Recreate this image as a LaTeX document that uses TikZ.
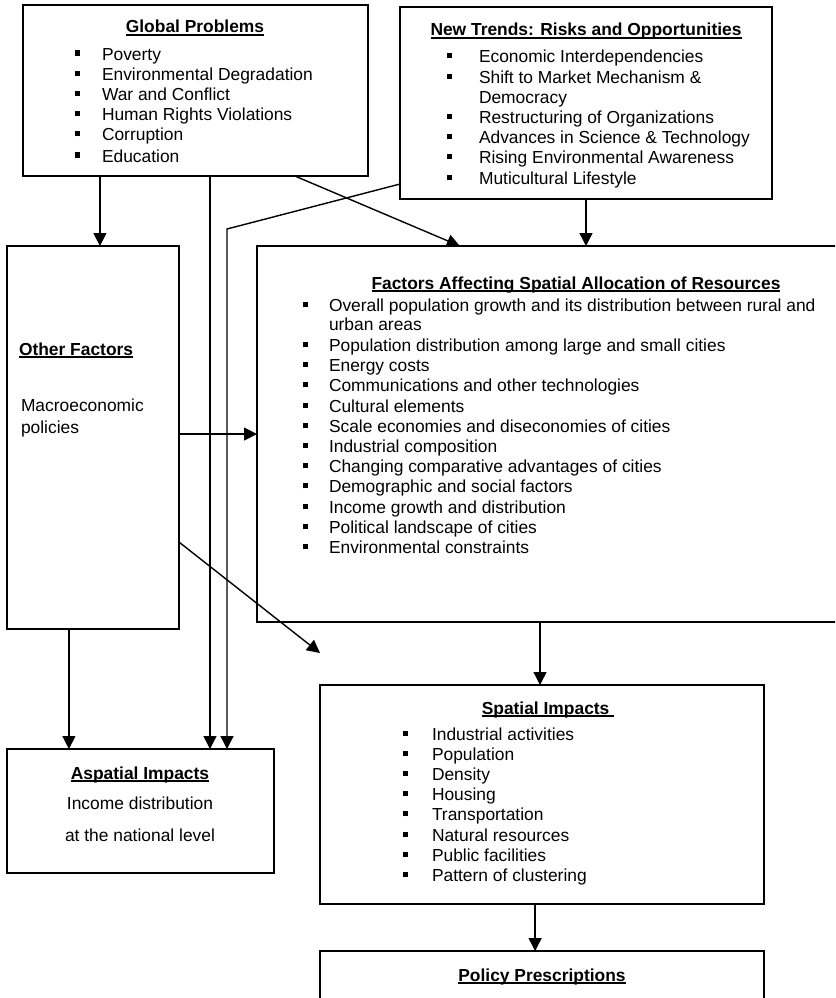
\documentclass[tikz,border=0pt]{standalone}
\usepackage{fontspec}
\setmainfont{Liberation Sans}
\usetikzlibrary{arrows.meta,calc}
\newcommand\bsq{\rule[4.5pt]{5pt}{5pt}}
\newcommand\bitem[2]{\makebox[#1][l]{\bsq}#2}
\newsavebox\ulbox
\newcommand\myul[1]{\sbox\ulbox{#1}\rlap{\rule[-2.6pt]{\wd\ulbox}{1.2pt}}\usebox\ulbox}
\newcommand\ttl[1]{\myul{\bfseries #1}}
\begin{document}
\begin{tikzpicture}[x=1pt,y=-1pt,
  font=\fontsize{17.4}{20.2}\selectfont,
  every node/.style={inner sep=0pt, outer sep=0pt},
  box/.style={draw, line width=1.3pt, anchor=north west},
  txt/.style={anchor=base west},
  arr/.style={line width=1.4pt, -{Triangle[length=13pt,width=13pt]}},
  ln/.style={line width=1.3pt}]
\useasboundingbox (0,0) rectangle (835,998);
\clip (0,0) rectangle (835,998);
\fill[white] (0,0) rectangle (835,998);

% boxes
\node[box, minimum width=345pt, minimum height=171pt] (gp) at (23,5) {};
\node[box, minimum width=372pt, minimum height=192pt] (nt) at (400,7) {};
\node[box, minimum width=172pt, minimum height=383pt] (of) at (7,246) {};
\node[box, minimum width=600pt, minimum height=376pt] (fa) at (257,246) {};
\node[box, minimum width=267pt, minimum height=124pt] (as) at (7,749) {};
\node[box, minimum width=444pt, minimum height=219pt] (sp) at (320,685) {};
\node[box, minimum width=444pt, minimum height=80pt] (pp) at (320,951) {};

% texts
\node[anchor=base] (gpt) at (195,33) {\ttl{Global Problems}};
\node[txt] (gpl) at (75,60) {\begin{tabular}[t]{@{}l@{}}
\bitem{27pt}{Poverty}\\
\bitem{27pt}{Environmental Degradation}\\
\bitem{27pt}{War and Conflict}\\
\bitem{27pt}{Human Rights Violations}\\
\bitem{27pt}{Corruption}\\[1pt]
\bitem{27pt}{Education}
\end{tabular}};

\node[anchor=base] (ntt) at (586,36) {\ttl{New Trends: Risks and Opportunities}};
\node[txt] (ntl) at (447,63) {\begin{tabular}[t]{@{}l@{}}
\bitem{32pt}{Economic Interdependencies}\\
\bitem{32pt}{Shift to Market Mechanism \&}\\
\hspace*{32pt}Democracy\\
\bitem{32pt}{Restructuring of Organizations}\\
\bitem{32pt}{Advances in Science \& Technology}\\
\bitem{32pt}{Rising Environmental Awareness}\\
\bitem{32pt}{Muticultural Lifestyle}
\end{tabular}};

\node[anchor=base] (fat) at (576,289) {\ttl{Factors Affecting Spatial Allocation of Resources}};
\node[txt] (fal) at (303,311) {\begin{tabular}[t]{@{}l@{}}
\bitem{26pt}{Overall population growth and its distribution between rural and}\\[-1pt]
\hspace*{26pt}urban areas\\[1pt]
\bitem{26pt}{Population distribution among large and small cities}\\
\bitem{26pt}{Energy costs}\\
\bitem{26pt}{Communications and other technologies}\\
\bitem{26pt}{Cultural elements}\\
\bitem{26pt}{Scale economies and diseconomies of cities}\\
\bitem{26pt}{Industrial composition}\\
\bitem{26pt}{Changing comparative advantages of cities}\\
\bitem{26pt}{Demographic and social factors}\\
\bitem{26pt}{Income growth and distribution}\\
\bitem{26pt}{Political landscape of cities}\\
\bitem{26pt}{Environmental constraints}
\end{tabular}};

\node[txt] (oft) at (19,355) {\ttl{Other Factors}};
\node[txt] (ofl) at (21,411) {\begin{tabular}[t]{@{}l@{}}
Macroeconomic\\[2pt]
policies
\end{tabular}};

\node[anchor=base] (ast) at (140,779) {\ttl{Aspatial Impacts}};
\node[anchor=base] (asl) at (140,809) {\begin{tabular}[t]{@{}c@{}}
Income distribution\\[11.8pt]
at the national level
\end{tabular}};

\node[anchor=base] (spt) at (548,714) {\ttl{Spatial Impacts\ }};
\node[txt] (spl) at (403,740) {\begin{tabular}[t]{@{}l@{}}
\bitem{29pt}{Industrial activities}\\
\bitem{29pt}{Population}\\
\bitem{29pt}{Density}\\
\bitem{29pt}{Housing}\\
\bitem{29pt}{Transportation}\\
\bitem{29pt}{Natural resources}\\
\bitem{29pt}{Public facilities}\\
\bitem{29pt}{Pattern of clustering}
\end{tabular}};

\node[anchor=base] (ppt) at (542,981) {\ttl{Policy Prescriptions}};

% connector end points
\coordinate (c1) at ($(gp.south west)!0.223!(gp.south east)$);
\coordinate (c2) at ($(gp.south west)!0.542!(gp.south east)$);
\coordinate (c3a) at ($(gp.south west)!0.788!(gp.south east)$);
\coordinate (c3b) at ($(fa.north west)!0.338!(fa.north east)$);
\coordinate (c5a) at ($(nt.north west)!0.922!(nt.south west)$);
\coordinate (c5t) at ($(as.north west)!0.824!(as.north east)$);
\coordinate (bend) at (227,229);
\coordinate (c6) at ($(of.north east)!0.491!(of.south east)$);
\coordinate (c7) at ($(of.north east)!0.773!(of.south east)$);
\coordinate (free) at (320,653);
\coordinate (c8) at ($(of.south west)!0.36!(of.south east)$);
\coordinate (c9) at ($(fa.south west)!0.4717!(fa.south east)$);
\coordinate (c10) at ($(sp.south west)!0.4845!(sp.south east)$);

% connectors
\draw[arr] (c1) -- (c1 |- of.north);
\draw[arr] (c2) -- (c2 |- as.north);
\draw[arr] (c3a) -- (c3b);
\draw[arr] (nt.south) -- (nt.south |- fa.north);
\draw[arr] (c5a) -- (bend) -- (bend |- c5t);
\draw[arr] (c6) -- (c6 -| fa.west);
\draw[arr] (c7) -- (free);
\draw[arr] (c8) -- (c8 |- as.north);
\draw[arr] (c9) -- (c9 |- sp.north);
\draw[arr] (c10) -- (c10 |- pp.north);
\end{tikzpicture}
\end{document}
